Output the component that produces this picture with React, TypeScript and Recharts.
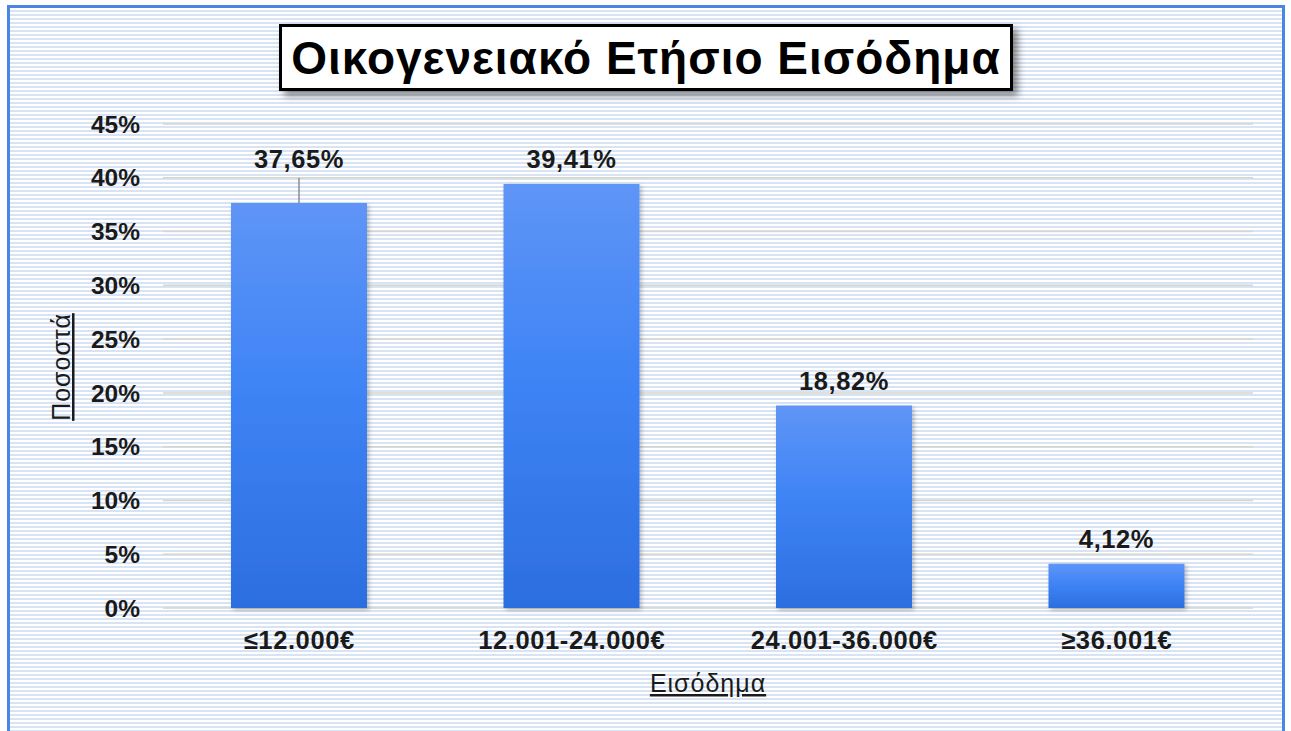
import { BarChart, Bar, XAxis, YAxis, CartesianGrid, LabelList } from 'recharts';

const categories = ['≤12.000€', '12.001-24.000€', '24.001-36.000€', '≥36.001€'];
const shares = [37.65, 39.41, 18.82, 4.12];
const yTicks = [0, 5, 10, 15, 20, 25, 30, 35, 40, 45];
// first label sits higher, with a leader line down to the bar
const leaderLine = [true, false, false, false];

const data = categories.map((name, i) => ({ name, value: shares[i], leader: leaderLine[i] }));

const FONT = '"Liberation Sans", Arial, Helvetica, sans-serif';
const fmt = (v: number) => v.toFixed(2).replace('.', ',') + '%';

function ValueLabel(props: any) {
	const { x, y, width, value, index } = props;
	const cx = x + width / 2;
	const lead = data[index]?.leader;
	const baseY = lead ? y - 35 : y - 16;
	return (
		<g>
			{lead && <line x1={cx} x2={cx} y1={baseY + 10} y2={y} stroke="#8c8c8c" strokeWidth={1.5} />}
			<text x={cx} y={baseY} textAnchor="middle" fontFamily={FONT} fontSize={25.5} fontWeight="bold" letterSpacing={0.6} fill="#1a1a1a">
				{fmt(value)}
			</text>
		</g>
	);
}

function YTitle({ viewBox }: any) {
	const cx = viewBox.x + 7;
	const cy = viewBox.y + viewBox.height / 2 + 1;
	return (
		<text x={cx} y={cy} transform={`rotate(-90, ${cx}, ${cy})`} textAnchor="middle" fontFamily={FONT} fontSize={25} letterSpacing={1} fill="#1a1a1a" style={{ textDecoration: 'underline' }}>
			Ποσοστά
		</text>
	);
}

function XTitle({ viewBox }: any) {
	const cx = viewBox.x + viewBox.width / 2;
	return (
		<text x={cx} y={viewBox.y + 84} textAnchor="middle" fontFamily={FONT} fontSize={25} letterSpacing={1} fill="#1a1a1a" style={{ textDecoration: 'underline' }}>
			Εισόδημα
		</text>
	);
}

export default function App() {
	return (
		<div style={{ position: 'fixed', left: 0, top: 0, width: 1291, height: 731, overflow: 'hidden', background: '#fff' }}>
			<div
				style={{
					position: 'absolute',
					left: 7,
					top: 5,
					width: 1278,
					height: 760,
					boxSizing: 'border-box',
					border: '3px solid #4a86e6',
					background: 'repeating-linear-gradient(to bottom, #ffffff 0px, #ffffff 2px, #d8e3f3 2px, #d8e3f3 4px)',
				}}
			/>
			<div
				style={{
					position: 'absolute',
					left: 279,
					top: 24,
					width: 734,
					height: 67,
					boxSizing: 'border-box',
					border: '3px solid #000',
					background: '#fff',
					boxShadow: '5px 5px 7px rgba(0,0,0,0.45)',
					display: 'flex',
					alignItems: 'center',
					justifyContent: 'center',
					fontFamily: FONT,
					fontWeight: 'bold',
					fontSize: 46,
					letterSpacing: 1,
					color: '#000',
					whiteSpace: 'nowrap',
				}}
			>
				Οικογενειακό Ετήσιο Εισόδημα
			</div>
			<div style={{ position: 'absolute', left: 0, top: 0 }}>
				<BarChart width={1291} height={731} data={data} margin={{ top: 124, right: 38, bottom: 43, left: 63 }}>
					<defs>
						<linearGradient id="barFill" x1="0" y1="0" x2="0" y2="1">
							<stop offset="0%" stopColor="#5f95f6" />
							<stop offset="45%" stopColor="#3f84f6" />
							<stop offset="100%" stopColor="#2c6ee0" />
						</linearGradient>
						<filter id="barShadow" x="-10%" y="-10%" width="130%" height="130%">
							<feDropShadow dx="2" dy="2" stdDeviation="2" floodColor="#000" floodOpacity="0.25" />
						</filter>
					</defs>
					<CartesianGrid vertical={false} stroke="#d6d6cc" strokeWidth={1.5} />
					<XAxis
						dataKey="name"
						height={80}
						axisLine={false}
						tickLine={false}
						tickSize={0}
						tickMargin={23}
						tick={{ fontFamily: FONT, fontSize: 25.5, fontWeight: 'bold', fill: '#1a1a1a', letterSpacing: 0.6 } as any}
						label={<XTitle />}
					/>
					<YAxis
						width={100}
						domain={[0, 45]}
						ticks={yTicks}
						interval={0}
						axisLine={false}
						tickLine={false}
						tickSize={0}
						tickMargin={23}
						tickFormatter={(v: number) => `${v}%`}
						tick={{ fontFamily: FONT, fontSize: 24.5, fontWeight: 'bold', fill: '#1a1a1a' }}
						label={<YTitle />}
					/>
					<Bar dataKey="value" barSize={136} fill="url(#barFill)" filter="url(#barShadow)" isAnimationActive={false}>
						<LabelList dataKey="value" content={<ValueLabel />} />
					</Bar>
				</BarChart>
			</div>
		</div>
	);
}
